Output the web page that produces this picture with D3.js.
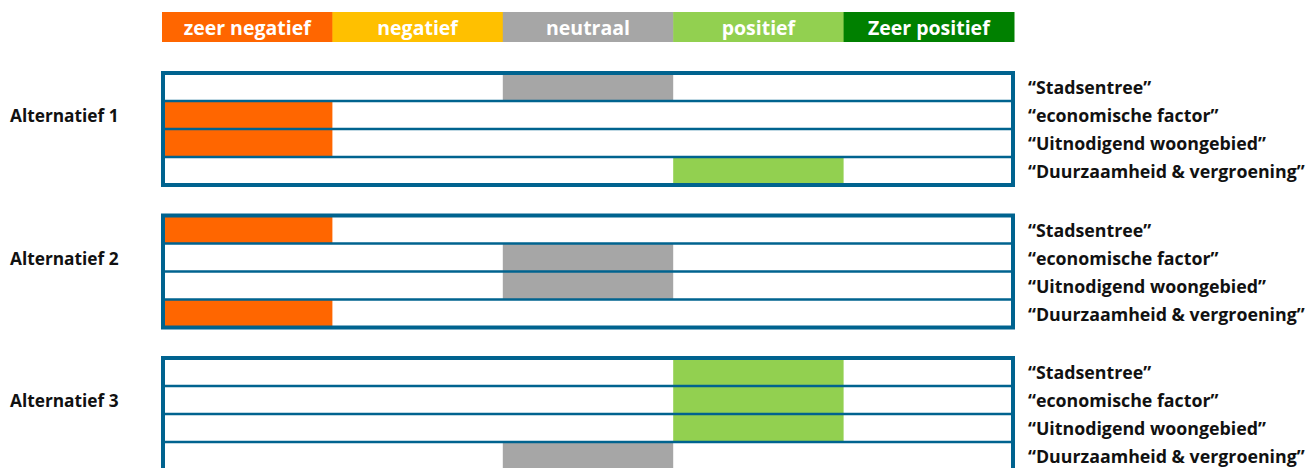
<!DOCTYPE html>
<html>
<head>
<meta charset="utf-8">
<script src="https://cdn.jsdelivr.net/npm/d3@7"></script>
<style>
  body { margin: 0; background: #fff; }
  text { font-family: "Open Sans", Lato, sans-serif; font-weight: bold; }
</style>
</head>
<body>
<div class="chart"></div>
<script>
// levels, left to right
const levels = ['zeer negatief', 'negatief', 'neutraal', 'positief', 'Zeer positief'];
const levelColors = ['#FF6600', '#FFC000', '#A6A6A6', '#92D050', '#008000'];

const criteria = ['\u201CStadsentree\u201D', '\u201Ceconomische factor\u201D', '\u201CUitnodigend woongebied\u201D', '\u201CDuurzaamheid & vergroening\u201D'];
const alternatives = ['Alternatief 1', 'Alternatief 2', 'Alternatief 3'];

// score per alternative, one per criterion
const alt1 = ['neutraal', 'zeer negatief', 'zeer negatief', 'positief'];
const alt2 = ['zeer negatief', 'neutraal', 'neutraal', 'zeer negatief'];
const alt3 = ['positief', 'positief', 'positief', 'neutraal'];
const scores = [alt1, alt2, alt3];

const width = 1309, height = 468;
const borderColor = '#00638F';

const svg = d3.select('.chart')
    .append('svg')
    .attr('width', width)
    .attr('height', height);

const xScale = d3.scaleBand()
    .domain(levels)
    .range([162, 1014]);

const colorScale = d3.scaleOrdinal()
    .domain(levels)
    .range(levelColors);

// legend across the top
const legend = svg.append('g');
legend.selectAll('rect')
    .data(levels)
    .enter()
    .append('rect')
    .attr('x', d => xScale(d))
    .attr('y', 12)
    .attr('width', xScale.bandwidth() + 0.5)
    .attr('height', 30)
    .attr('fill', d => colorScale(d));

legend.selectAll('text')
    .data(levels)
    .enter()
    .append('text')
    .attr('x', d => xScale(d) + xScale.bandwidth() / 2)
    .attr('y', 28)
    .attr('dy', '0.35em')
    .attr('text-anchor', 'middle')
    .attr('fill', 'white')
    .style('font-size', '19.5px')
    .text(d => d);

const groupScale = d3.scalePoint()
    .domain(alternatives)
    .range([73, 358]);

const boxH = 112;
const rowScale = d3.scaleBand()
    .domain(criteria)
    .range([0, boxH]);

alternatives.forEach((alt, gi) => {
    const g = svg.append('g')
        .attr('transform', `translate(0, ${groupScale(alt)})`);

    // filled score cells
    g.selectAll('rect.cell')
        .data(criteria.map((c, i) => ({crit: c, level: scores[gi][i]})))
        .enter()
        .append('rect')
        .attr('class', 'cell')
        .attr('x', d => xScale(d.level))
        .attr('y', d => rowScale(d.crit))
        .attr('width', xScale.bandwidth())
        .attr('height', rowScale.bandwidth())
        .attr('fill', d => colorScale(d.level));

    // row separators
    g.selectAll('line.sep')
        .data(criteria.slice(1))
        .enter()
        .append('line')
        .attr('x1', 163)
        .attr('x2', 1013)
        .attr('y1', d => rowScale(d))
        .attr('y2', d => rowScale(d))
        .attr('stroke', borderColor)
        .attr('stroke-width', 2.5);

    // outer box
    g.append('rect')
        .attr('x', 163)
        .attr('y', 0)
        .attr('width', 850)
        .attr('height', boxH)
        .attr('fill', 'none')
        .attr('stroke', borderColor)
        .attr('stroke-width', 4);

    // criterion labels on the right
    g.selectAll('text.crit')
        .data(criteria)
        .enter()
        .append('text')
        .attr('class', 'crit')
        .attr('x', 1028)
        .attr('y', d => rowScale(d) + rowScale.bandwidth() / 2 + 1)
        .attr('dy', '0.35em')
        .attr('fill', '#111')
        .style('font-size', '17.8px')
        .text(d => d);

    // alternative name on the left, level with row 2
    g.append('text')
        .attr('x', 10)
        .attr('y', rowScale(criteria[1]) + rowScale.bandwidth() / 2 + 1)
        .attr('dy', '0.35em')
        .attr('fill', '#111')
        .style('font-size', '17.3px')
        .text(alt);
});
</script>
</body>
</html>
